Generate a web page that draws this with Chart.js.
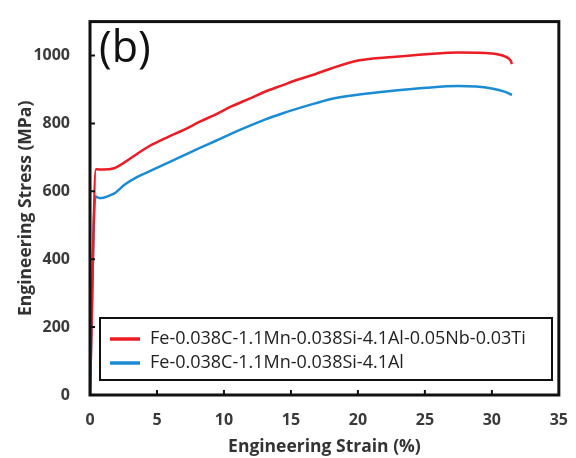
<!DOCTYPE html>
<html>
<head>
<meta charset="utf-8">
<script src="https://cdn.jsdelivr.net/npm/chart.js@4/dist/chart.umd.min.js"></script>
<style>
  html, body { margin: 0; padding: 0; background: #fff; }
  #grafico { display: block; }
</style>
</head>
<body>
<canvas id="grafico" width="576" height="458"></canvas>
<script>
// curva com Nb-Ti (vermelha)
const strainNbTi = [0, 0.45, 1.0, 1.8, 2.6, 3.5, 4.5, 5.8, 7.0, 8.2, 9.4, 10.6, 11.9, 13.1, 14.4, 15.6, 16.8, 18.0, 20.1, 22.6, 25.1, 27.5, 30.0, 31.0, 31.4, 31.5];
const stressNbTi = [0, 665, 664, 668, 686, 710, 735, 760, 781, 805, 827, 851, 873, 894, 913, 930, 945, 962, 986, 996, 1004, 1009, 1006, 997, 985, 975];

// curva sem Nb-Ti (azul)
const strainBase = [0, 0.4, 0.7, 1.0, 1.5, 1.9, 2.6, 3.5, 4.5, 5.8, 7.0, 8.2, 9.4, 10.6, 11.9, 13.1, 14.4, 15.6, 16.8, 18.0, 20.1, 22.6, 25.1, 27.5, 30.0, 31.0, 31.5];
const stressBase = [0, 585, 580, 581, 588, 596, 620, 642, 660, 684, 706, 728, 749, 771, 793, 812, 830, 845, 859, 872, 885, 896, 905, 910, 903, 893, 884];

const seriesLabels = ['Fe-0.038C-1.1Mn-0.038Si-4.1Al-0.05Nb-0.03Ti', 'Fe-0.038C-1.1Mn-0.038Si-4.1Al'];
const xTicks = [0, 5, 10, 15, 20, 25, 30, 35];
const yTicks = [0, 200, 400, 600, 800, 1000];
const panelLabel = '(b)';

function pontos(xs, ys) {
    return xs.map((x, i) => ({ x: x, y: ys[i] }));
}

// moldura, ticks internos, rótulo (b) e legenda com caixa
const molduraPlugin = {
    id: 'moldura',
    afterDatasetsDraw(chart) {
        const ctx = chart.ctx;
        const a = chart.chartArea;
        const sx = chart.scales.x;
        const sy = chart.scales.y;
        ctx.save();

        ctx.strokeStyle = '#111';
        ctx.lineWidth = 3;
        ctx.strokeRect(a.left, a.top, a.right - a.left, a.bottom - a.top);

        ctx.lineWidth = 2;
        ctx.beginPath();
        xTicks.forEach(v => {
            if (v === 0 || v === 35) return;
            const px = sx.getPixelForValue(v);
            ctx.moveTo(px, a.bottom);
            ctx.lineTo(px, a.bottom - 5);
        });
        yTicks.forEach(v => {
            if (v === 0) return;
            const py = sy.getPixelForValue(v);
            ctx.moveTo(a.left, py);
            ctx.lineTo(a.left + 5, py);
        });
        ctx.stroke();

        ctx.fillStyle = '#111';
        ctx.font = '43px "Open Sans"';
        ctx.textBaseline = 'middle';
        ctx.textAlign = 'left';
        ctx.fillText(panelLabel, a.left + 9, sy.getPixelForValue(1000) - 6);

        // legenda
        const lx = a.left + 10, ly = 318, lw = 452, lh = 62;
        ctx.fillStyle = '#fff';
        ctx.fillRect(lx, ly, lw, lh);
        ctx.strokeStyle = '#111';
        ctx.lineWidth = 2;
        ctx.strokeRect(lx, ly, lw, lh);
        ctx.font = '18px "Open Sans"';
        chart.data.datasets.forEach((ds, i) => {
            const yy = ly + 21 + i * 24;
            ctx.strokeStyle = ds.borderColor;
            ctx.lineWidth = 3.5;
            ctx.beginPath();
            ctx.moveTo(lx + 10, yy);
            ctx.lineTo(lx + 40, yy);
            ctx.stroke();
            ctx.fillStyle = '#222';
            ctx.fillText(ds.label, lx + 50, yy);
        });
        ctx.restore();
    }
};

const fonteTick = { family: '"Open Sans"', size: 16, weight: 'bold' };
const fonteTitulo = { family: '"Open Sans"', size: 17.5, weight: 'bold' };

const ctx = document.getElementById('grafico').getContext('2d');
new Chart(ctx, {
    type: 'line',
    data: {
        datasets: [{
            label: seriesLabels[0],
            data: pontos(strainNbTi, stressNbTi),
            borderColor: '#ec1c24',
            borderWidth: 2.5,
            pointRadius: 0,
            cubicInterpolationMode: 'monotone',
            order: 1
        }, {
            label: seriesLabels[1],
            data: pontos(strainBase, stressBase),
            borderColor: '#1b8bd3',
            borderWidth: 2.5,
            pointRadius: 0,
            cubicInterpolationMode: 'monotone',
            order: 2
        }]
    },
    options: {
        responsive: false,
        devicePixelRatio: 1,
        animation: false,
        layout: { padding: { left: 0, right: 10, top: 13, bottom: 0 } },
        plugins: {
            legend: { display: false },
            tooltip: { enabled: false }
        },
        scales: {
            x: {
                type: 'linear',
                min: 0,
                max: 35,
                afterFit: s => { s.height = 63; },
                afterBuildTicks: s => { s.ticks = xTicks.map(v => ({ value: v })); },
                grid: { display: false },
                border: { display: false },
                ticks: {
                    padding: 8,
                    color: '#3a3a3a',
                    font: fonteTick,
                    callback: v => String(v)
                },
                title: {
                    display: true,
                    text: 'Engineering Strain (%)',
                    color: '#333',
                    padding: { top: 0, bottom: 0 },
                    font: fonteTitulo
                }
            },
            y: {
                min: 0,
                max: 1100,
                afterFit: s => { s.width = 90; },
                afterBuildTicks: s => { s.ticks = yTicks.map(v => ({ value: v })); },
                grid: { display: false },
                border: { display: false },
                ticks: {
                    padding: 12,
                    color: '#3a3a3a',
                    font: fonteTick,
                    callback: v => String(v)
                },
                title: {
                    display: true,
                    text: 'Engineering Stress (MPa)',
                    color: '#333',
                    padding: { top: 16, bottom: 0 },
                    font: fonteTitulo
                }
            }
        }
    },
    plugins: [molduraPlugin]
});
</script>
</body>
</html>
